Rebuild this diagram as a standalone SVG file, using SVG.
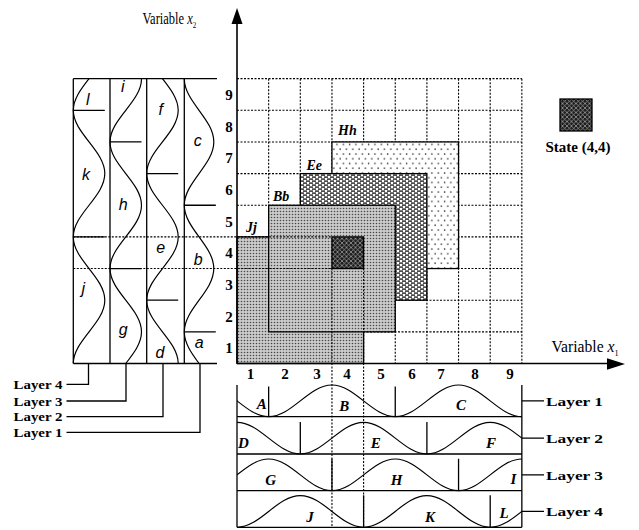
<svg xmlns="http://www.w3.org/2000/svg" width="639" height="530" viewBox="0 0 639 530">
<style>
.ser{font-family:"Liberation Serif","Times New Roman",serif;}
.num{font-family:"Liberation Serif",serif;font-weight:bold;font-size:15px;text-anchor:middle;}
.bi{font-family:"Liberation Serif",serif;font-weight:bold;font-style:italic;font-size:14px;}
.big{font-family:"Liberation Serif",serif;font-weight:bold;font-style:italic;font-size:15px;text-anchor:middle;}
.si{font-family:"Liberation Sans",Arial,sans-serif;font-style:italic;font-size:16px;text-anchor:middle;}
.lay{font-family:"Liberation Serif",serif;font-weight:bold;font-size:13.5px;}
.grid{stroke:#000;stroke-width:1.1;stroke-dasharray:2,1.5;fill:none;}
.ln{stroke:#000;stroke-width:1.3;fill:none;}
.cv{stroke:#000;stroke-width:1.2;fill:none;}
.ax{stroke:#000;stroke-width:1.6;fill:none;}
</style>
<defs>
<pattern id="pGray" patternUnits="userSpaceOnUse" width="3" height="3"><rect width="3" height="3" fill="#cbcbcb"/><circle cx="1.5" cy="1.5" r="0.8" fill="#4a4a4a"/></pattern>
<pattern id="pDash" patternUnits="userSpaceOnUse" width="6" height="4"><rect width="6" height="4" fill="#fff"/><rect x="0" y="0.4" width="4" height="1.4" fill="#222"/><rect x="3" y="2.4" width="3" height="1.4" fill="#222"/><rect x="0" y="2.4" width="1" height="1.4" fill="#222"/></pattern>
<pattern id="pDots" patternUnits="userSpaceOnUse" width="6.33" height="9.5"><rect width="6.33" height="9.5" fill="#fff"/><circle cx="1.5" cy="2" r="0.8" fill="#333"/><circle cx="4.67" cy="6.75" r="0.8" fill="#333"/></pattern>
<pattern id="pState" patternUnits="userSpaceOnUse" width="4.5" height="4.5"><rect width="4.5" height="4.5" fill="#1c1c1c"/><path d="M0,0L4.5,4.5M4.5,0L0,4.5" stroke="#aaa" stroke-width="0.7"/></pattern>
<clipPath id="clipL"><rect x="60" y="78.65" width="170" height="284.85"/></clipPath>
<clipPath id="clipB"><rect x="237" y="380" width="284.85" height="150"/></clipPath>
</defs>
<rect width="639" height="530" fill="#fff"/>

<g id="grid">
<path class="grid" d="M268.65,78.65V363.5M300.3,78.65V363.5M331.95,78.65V363.5M363.6,78.65V363.5M395.25,78.65V363.5M426.9,78.65V363.5M458.55,78.65V363.5M490.2,78.65V363.5M521.85,78.65V363.5"/>
<path class="grid" d="M237,331.85H521.85M237,300.2H521.85M237,268.55H521.85M237,236.9H521.85M237,205.25H521.85M237,173.6H521.85M237,141.95H521.85M237,110.3H521.85M237,78.65H521.85"/>
</g>

<g id="tile-Hh">
<rect x="331.95" y="141.95" width="126.6" height="126.6" fill="url(#pDots)" stroke="#000" stroke-width="1.3"/>
<text class="bi" x="338" y="135">Hh</text>
</g>
<g id="tile-Ee">
<rect x="300.3" y="173.6" width="126.6" height="126.6" fill="url(#pDash)" stroke="#000" stroke-width="1.3"/>
<text class="bi" x="306.5" y="170">Ee</text>
</g>
<g id="tile-Jj">
<rect x="237" y="236.9" width="126.6" height="126.6" fill="url(#pGray)" stroke="#000" stroke-width="1.3"/>
<text class="bi" x="246" y="232">Jj</text>
</g>
<g id="tile-Bb">
<rect x="268.65" y="205.25" width="126.6" height="126.6" fill="url(#pGray)" stroke="#000" stroke-width="1.3"/>
<text class="bi" x="273" y="201">Bb</text>
</g>

<g id="crosshair">
<path class="grid" d="M73.3,236.9H331.95M73.3,268.55H331.95M331.95,268.55V527.3M363.6,268.55V527.3"/>
</g>

<g id="state-cell">
<rect x="331.95" y="236.9" width="31.65" height="31.65" fill="url(#pState)" stroke="#000" stroke-width="1.3"/>
</g>

<g id="axes">
<path class="ax" d="M237,363.5V20"/>
<polygon points="237,8 231.5,24 242.5,24" fill="#000"/>
<path class="ax" d="M237,363.5H610"/>
<polygon points="625,364 607,358.3 607,369.7" fill="#000"/>
<text class="ser" transform="translate(142.5,24) scale(0.78,1)" font-size="16">Variable <tspan font-style="italic">x</tspan><tspan font-size="9" dy="3.5">2</tspan></text>
<text class="ser" transform="translate(551.5,352) scale(0.92,1)" font-size="17">Variable <tspan font-style="italic">x</tspan><tspan font-size="9" dy="4">1</tspan></text>
</g>

<g id="row-labels">
<text class="num" x="229" y="353.2">1</text>
<text class="num" x="229" y="321.6">2</text>
<text class="num" x="229" y="289.9">3</text>
<text class="num" x="229" y="258.3">4</text>
<text class="num" x="229" y="226.6">5</text>
<text class="num" x="229" y="195">6</text>
<text class="num" x="229" y="163.3">7</text>
<text class="num" x="229" y="131.6">8</text>
<text class="num" x="229" y="100">9</text>
</g>
<g id="col-labels">
<text class="num" x="250.5" y="379">1</text>
<text class="num" x="285" y="379">2</text>
<text class="num" x="317" y="379">3</text>
<text class="num" x="347" y="379">4</text>
<text class="num" x="381" y="379">5</text>
<text class="num" x="412" y="379">6</text>
<text class="num" x="441" y="379">7</text>
<text class="num" x="475" y="379">8</text>
<text class="num" x="510" y="379">9</text>
</g>

<g id="legend-state">
<rect x="560" y="99" width="32" height="32" fill="url(#pState)" stroke="#000" stroke-width="1.3"/>
<text class="ser" x="578" y="152" font-size="15" font-weight="bold" text-anchor="middle">State (4,4)</text>
</g>

<g id="left-panel">
<path class="ln" d="M73.3,78.65H217M73.3,363.5H217M73.3,78.65V363.5M110,78.65V363.5M146.7,78.65V363.5M184.3,78.65V363.5"/>
<path class="ln" d="M73.3,236.9H104.8M73.3,110.3H104.8M110,268.55H141.5M110,141.95H141.5M146.7,300.2H178.2M146.7,173.6H178.2M184.3,331.85H215.8M184.3,205.25H215.8"/>
<g clip-path="url(#clipL)">
<path class="cv" d="M184.3,458.45C184.3,435.45 213.8,418.15 213.8,395.15S184.3,354.85 184.3,331.85S213.8,291.55 213.8,268.55S184.3,228.25 184.3,205.25S213.8,164.95 213.8,141.95S184.3,101.65 184.3,78.65"/>
<path class="cv" d="M146.7,426.8C146.7,403.8 178.2,386.5 178.2,363.5S146.7,323.2 146.7,300.2S178.2,259.9 178.2,236.9S146.7,196.6 146.7,173.6S178.2,133.3 178.2,110.3S146.7,70 146.7,47"/>
<path class="cv" d="M110,395.15C110,372.15 141.5,354.85 141.5,331.85S110,291.55 110,268.55S141.5,228.25 141.5,205.25S110,164.95 110,141.95S141.5,101.65 141.5,78.65"/>
<path class="cv" d="M73.3,363.5C73.3,340.5 104.8,323.2 104.8,300.2S73.3,259.9 73.3,236.9S104.8,196.6 104.8,173.6S73.3,133.3 73.3,110.3S104.8,70 104.8,47"/>
</g>
<text class="si" x="87.7" y="104.5">l</text>
<text class="si" x="86" y="179.5">k</text>
<text class="si" x="83.3" y="294">j</text>
<text class="si" x="122.7" y="92">i</text>
<text class="si" x="123.3" y="209.5">h</text>
<text class="si" x="123.3" y="335">g</text>
<text class="si" x="160.7" y="114.5">f</text>
<text class="si" x="160.7" y="253">e</text>
<text class="si" x="160" y="357.5">d</text>
<text class="si" x="197.7" y="145.5">c</text>
<text class="si" x="198.3" y="264.5">b</text>
<text class="si" x="199.3" y="348">a</text>
</g>

<g id="bottom-panel">
<path class="ln" d="M237,385V527.3M521.85,385V527.3M237,416.7H521.85M237,454H521.85M237,490.7H521.85M237,527.3H521.85"/>
<path class="ln" d="M268.65,416.7V386.5M395.25,416.7V386.5M300.3,454V422M426.9,454V422M331.95,490.7V458.7M458.55,490.7V458.7M363.6,527.3V495.3M490.2,527.3V495.3"/>
<g clip-path="url(#clipB)">
<path class="cv" d="M142.05,416.7C165.05,416.7 182.35,385 205.35,385S245.65,416.7 268.65,416.7S308.95,385 331.95,385S372.25,416.7 395.25,416.7S435.55,385 458.55,385S498.85,416.7 521.85,416.7"/>
<path class="cv" d="M173.7,454C196.7,454 214,422.3 237,422.3S277.3,454 300.3,454S340.6,422.3 363.6,422.3S403.9,454 426.9,454S467.2,422.3 490.2,422.3S530.5,454 553.5,454"/>
<path class="cv" d="M205.35,490.7C228.35,490.7 245.65,459 268.65,459S308.95,490.7 331.95,490.7S372.25,459 395.25,459S435.55,490.7 458.55,490.7S498.85,459 521.85,459S562.15,490.7 585.15,490.7"/>
<path class="cv" d="M237,527.3C260,527.3 277.3,495.6 300.3,495.6S340.6,527.3 363.6,527.3S403.9,495.6 426.9,495.6S467.2,527.3 490.2,527.3S530.5,495.6 553.5,495.6"/>
</g>
<text class="big" x="261.7" y="409">A</text>
<text class="big" x="344.3" y="411">B</text>
<text class="big" x="461" y="410">C</text>
<text class="big" x="243.3" y="448">D</text>
<text class="big" x="375.7" y="448">E</text>
<text class="big" x="491" y="448">F</text>
<text class="big" x="270.7" y="485">G</text>
<text class="big" x="396.7" y="485">H</text>
<text class="big" x="513.3" y="483.5">I</text>
<text class="big" x="310" y="522">J</text>
<text class="big" x="430" y="522">K</text>
<text class="big" x="504" y="518">L</text>
</g>

<g id="connectors">
<path class="ln" d="M88.5,363.5V384.3H66.5M126,363.5V401H66.5M163,363.5V416.7H66.5M200,363.5V432.3H66.5"/>
<path class="ln" d="M521.85,400.85H544M521.85,438.15H544M521.85,474.85H544M521.85,511.45H544"/>
</g>

<g id="layer-labels">
<text class="lay" x="13.5" y="389" textLength="49" lengthAdjust="spacingAndGlyphs">Layer 4</text>
<text class="lay" x="13.5" y="405.5" textLength="49" lengthAdjust="spacingAndGlyphs">Layer 3</text>
<text class="lay" x="13.5" y="420.5" textLength="49" lengthAdjust="spacingAndGlyphs">Layer 2</text>
<text class="lay" x="13.5" y="436.5" textLength="49" lengthAdjust="spacingAndGlyphs">Layer 1</text>
<text class="lay" x="546" y="405.5" textLength="57" lengthAdjust="spacingAndGlyphs">Layer 1</text>
<text class="lay" x="546" y="442.5" textLength="57" lengthAdjust="spacingAndGlyphs">Layer 2</text>
<text class="lay" x="546" y="479.5" textLength="57" lengthAdjust="spacingAndGlyphs">Layer 3</text>
<text class="lay" x="546" y="516" textLength="57" lengthAdjust="spacingAndGlyphs">Layer 4</text>
</g>
</svg>
